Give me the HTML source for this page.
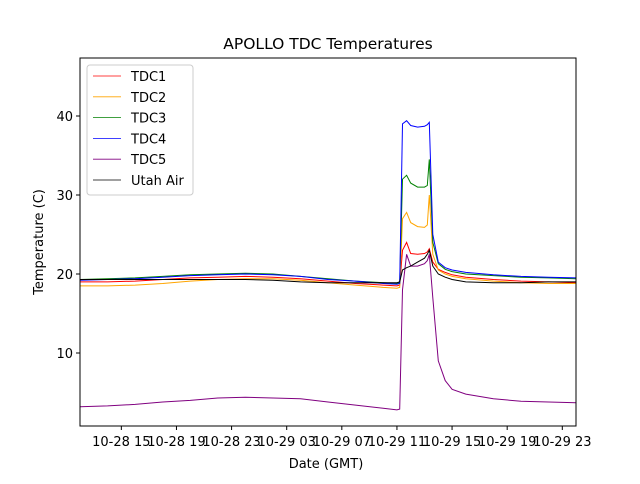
<!DOCTYPE html>
<html><head><meta charset="utf-8"><style>
body{margin:0;background:#fff;font-family:"DejaVu Sans","Liberation Sans",sans-serif}
svg text{font-family:"DejaVu Sans","Liberation Sans",sans-serif}
</style></head><body>
<svg id="chart" width="640" height="480" xmlns="http://www.w3.org/2000/svg">
<rect width="640" height="480" fill="#fff"/>
<text x="328" y="49" font-size="15.5" text-anchor="middle">APOLLO TDC Temperatures</text>
<g id="plot"></g>
<rect x="80" y="58" width="496" height="368" fill="none" stroke="#000" stroke-width="1"/>
<g id="ticks"></g>
<text x="326" y="468" font-size="13" text-anchor="middle">Date (GMT)</text>
<text transform="translate(43,242) rotate(-90)" font-size="13" text-anchor="middle">Temperature (C)</text>
<g id="legend"></g>
</svg>
<script>
const times=[0,2,4,6,8,10,12,14,16,18,20,22,23.0,23.2,23.4,23.7,24,24.5,25,25.2,25.35,25.6,26,26.5,27,28,30,32,34,36];
const tdc1=[19.0,19.0,19.1,19.3,19.5,19.6,19.7,19.6,19.4,19.1,18.8,18.6,18.5,18.6,23.0,24.0,22.6,22.5,22.6,22.8,23.2,21.5,20.6,20.2,19.9,19.6,19.3,19.1,19.0,18.9];
const tdc2=[18.5,18.5,18.6,18.8,19.1,19.3,19.4,19.4,19.2,18.9,18.6,18.3,18.2,18.3,27.0,27.8,26.5,26.0,25.9,26.2,30.0,22.5,20.5,20.0,19.7,19.4,19.1,18.9,18.8,18.8];
const tdc3=[19.3,19.4,19.5,19.7,19.9,20.0,20.1,20.0,19.7,19.4,19.1,18.9,18.8,18.9,32.0,32.5,31.5,31.0,31.0,31.2,34.5,24,21.3,20.6,20.3,20.0,19.8,19.6,19.5,19.4];
const tdc4=[19.2,19.3,19.4,19.6,19.8,19.9,20.0,19.9,19.7,19.3,19.1,18.8,18.7,18.8,39.0,39.4,38.8,38.6,38.7,38.9,39.2,25,21.5,20.8,20.5,20.2,19.9,19.7,19.6,19.5];
const tdc5=[3.2,3.3,3.5,3.8,4.0,4.3,4.4,4.3,4.2,3.8,3.4,3.0,2.8,2.9,18,22.5,21.0,21.0,21.3,21.7,22.5,17,9,6.5,5.4,4.8,4.2,3.9,3.8,3.7];
const utahAir=[19.3,19.3,19.3,19.3,19.3,19.3,19.3,19.2,19.0,18.9,18.9,18.9,18.9,19.0,20.5,20.8,21.0,21.5,22.0,22.5,23.0,21.0,20.0,19.6,19.3,19.0,18.9,18.9,19.0,19.0];
const seriesNames=["TDC1","TDC2","TDC3","TDC4","TDC5","Utah Air"];
const yTicks=[10,20,30,40];
const xTickHours=[3,7,11,15,19,23,27,31,35];
const xTickLabels=["10-28 15","10-28 19","10-28 23","10-29 03","10-29 07","10-29 11","10-29 15","10-29 19","10-29 23"];
</script>
<script>
const NS="http://www.w3.org/2000/svg";
const X=h=>80+h*13.78;
const Y=t=>432-t*7.9;
const colors=["#ff0000","#ffa500","#008000","#0000ff","#800080","#000000"];
const all=[tdc1,tdc2,tdc3,tdc4,tdc5,utahAir];
const plot=document.getElementById('plot');
all.forEach((s,i)=>{
  const p=document.createElementNS(NS,'polyline');
  p.setAttribute('points',s.map((v,j)=>X(times[j]).toFixed(1)+','+Y(v).toFixed(1)).join(' '));
  p.setAttribute('fill','none');p.setAttribute('stroke',colors[i]);p.setAttribute('stroke-width','1');
  
  
  plot.appendChild(p);
});
const tk=document.getElementById('ticks');
yTicks.forEach(v=>{
  const l=document.createElementNS(NS,'line');
  l.setAttribute('x1',76);l.setAttribute('x2',80);l.setAttribute('y1',Y(v));l.setAttribute('y2',Y(v));l.setAttribute('stroke','#000');
  
  
  tk.appendChild(l);
  const t=document.createElementNS(NS,'text');
  t.setAttribute('x',73);t.setAttribute('y',Y(v)+5);t.setAttribute('text-anchor','end');t.setAttribute('font-size','13');
  t.textContent=v;
  
  
  tk.appendChild(t);
});
xTickHours.forEach((h,i)=>{
  const l=document.createElementNS(NS,'line');
  l.setAttribute('x1',X(h));l.setAttribute('x2',X(h));l.setAttribute('y1',426);l.setAttribute('y2',430);l.setAttribute('stroke','#000');
  
  
  tk.appendChild(l);
  const t=document.createElementNS(NS,'text');
  t.setAttribute('x',X(h));t.setAttribute('y',446);t.setAttribute('text-anchor','middle');t.setAttribute('font-size','13');
  t.textContent=xTickLabels[i];
  
  
  tk.appendChild(t);
});
const lg=document.getElementById('legend');
const box=document.createElementNS(NS,'rect');
box.setAttribute('x',87);box.setAttribute('y',65);box.setAttribute('width',106);box.setAttribute('height',130);
box.setAttribute('rx',3);box.setAttribute('fill','#fff');box.setAttribute('stroke','#ccc');


lg.appendChild(box);
seriesNames.forEach((n,i)=>{
  const y=76+i*20.8;
  const l=document.createElementNS(NS,'line');
  l.setAttribute('x1',93);l.setAttribute('x2',121);l.setAttribute('y1',y);l.setAttribute('y2',y);l.setAttribute('stroke',colors[i]);l.setAttribute('stroke-width','0.8');
  
  
  lg.appendChild(l);
  const t=document.createElementNS(NS,'text');
  t.setAttribute('x',131);t.setAttribute('y',y+5);t.setAttribute('font-size','13');
  t.textContent=n;
  
  
  lg.appendChild(t);
});
</script>
</body></html>
